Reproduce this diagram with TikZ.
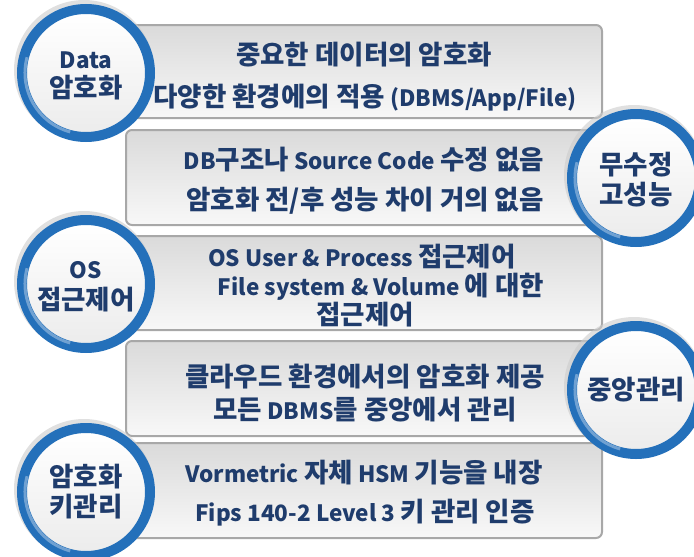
\documentclass[tikz,border=0pt]{standalone}
\usepackage{fontspec}
\setmainfont{Noto Sans CJK KR}
\definecolor{txt}{RGB}{31,60,108}
\definecolor{ring}{RGB}{36,112,186}
\definecolor{bord}{RGB}{168,168,168}
\newcommand\K[1]{{\fontsize{26.5}{30}\selectfont #1}}
\tikzset{
  panel/.style={rounded corners=6pt, draw=bord, line width=2pt, top color={rgb,255:red,218;green,218;blue,218}, bottom color={rgb,255:red,248;green,248;blue,248}},
  line/.style={anchor=base, text=txt, font=\fontsize{22.5}{26}\selectfont\bfseries, inner sep=0pt},
}
\newcommand\badge[3]{%
  \fill[gray!40, opacity=0.6] ($(#1)+(-2,-3)$) circle (70);
  \shade[top color=white, bottom color={rgb,255:red,236;green,236;blue,236}] (#1) circle (60);
  \draw[ring, line width=10pt] (#1) circle (64);
  \draw[white, opacity=0.35, line width=3pt] ($(#1)+(105:61)$) arc (105:195:61);
  \node[coordinate] (#2) at (#1) {};
}
\usetikzlibrary{calc}
\begin{document}
\begin{tikzpicture}[x=1pt,y=-1pt]
\useasboundingbox (0,0) rectangle (694,557);
% panels
\path[panel] (130,25) rectangle (602,118);
\path[panel] (126,130) rectangle (600,225);
\path[panel] (130,236) rectangle (602,330);
\path[panel] (126,341) rectangle (600,436);
\path[panel] (130,443) rectangle (602,538);
% panel texts
\node[line] (t11) at (364,64) {\K{중요한 데이터의 암호화}};
\node[line] (t12) at (365,106) {\K{다양한 환경에의 적용} (DBMS/App/File)};
\node[line] (t21) at (364,169) {DB\K{구조나} Source Code \K{수정 없음}};
\node[line] (t22) at (365,209) {\K{암호화 전/후 성능 차이 거의 없음}};
\node[line] (t31) at (362,266) {OS User \& Process \K{접근제어}};
\node[line] (t32) at (381,295) {File system \& Volume \K{에 대한}};
\node[line] (t33) at (365,324) {\K{접근제어}};
\node[line] (t41) at (365,386) {\K{클라우드 환경에서의 암호화 제공}};
\node[line] (t42) at (365,419) {\K{모든} DBMS\K{를 중앙에서 관리}};
\node[line] (t51) at (364,482) {Vormetric \K{자체} HSM \K{기능을 내장}};
\node[line] (t52) at (365,521) {Fips 140-2 Level 3 \K{키 관리 인증}};
% badges
\coordinate (p1) at (86,73);
\coordinate (p2) at (636,178);
\coordinate (p3) at (86,284);
\coordinate (p4) at (636,390);
\coordinate (p5) at (86,492);
\badge{p1}{c1}{}
\badge{p2}{c2}{}
\badge{p3}{c3}{}
\badge{p4}{c4}{}
\badge{p5}{c5}{}
\node[line] (b11) at (86,68) {Data};
\node[line] (b12) at (86,97) {\K{암호화}};
\node[line] (b21) at (636,174) {\K{무수정}};
\node[line] (b22) at (636,204) {\K{고성능}};
\node[line] (b31) at (86,278) {OS};
\node[line] (b32) at (86,309) {\K{접근제어}};
\node[line] (b41) at (636,399) {\K{중앙관리}};
\node[line] (b51) at (86,486) {\K{암호화}};
\node[line] (b52) at (86,516) {\K{키관리}};
\end{tikzpicture}
\end{document}
